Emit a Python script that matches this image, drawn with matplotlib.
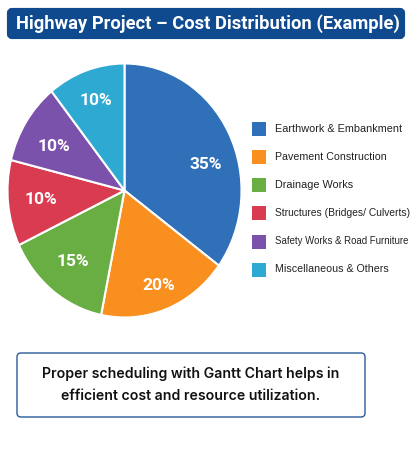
import matplotlib
matplotlib.use('Agg')
import matplotlib.pyplot as plt
from matplotlib.patches import FancyBboxPatch, Rectangle

# slice sizes (the printed labels are rounder than the wedges)
categories = ["Earthwork & Embankment", "Pavement Construction", "Drainage Works",
              "Structures (Bridges/ Culverts)", "Safety Works & Road Furniture",
              "Miscellaneous & Others"]
slice_shares = [35.0, 18.1, 14.7, 10.9, 10.4, 10.7]
slice_labels = ["35%", "20%", "15%", "10%", "10%", "10%"]
colors = ["#3070b8", "#f98f1f", "#69ae43", "#d93b50", "#7b52ab", "#2ea9d2"]

title = "Highway Project – Cost Distribution (Example)"
note_lines = ["Proper scheduling with Gantt Chart helps in",
              "efficient cost and resource utilization."]

W, H = 414, 450
fig = plt.figure(figsize=(W / 100, H / 100), dpi=100, facecolor="white")

# overlay in pixel coords for title bar, legend and note box
bg = fig.add_axes([0, 0, 1, 1])
bg.set_xlim(0, W)
bg.set_ylim(H, 0)
bg.axis("off")

bg.add_patch(FancyBboxPatch((9, 10), 394, 27, boxstyle="round,pad=0,rounding_size=3",
                            mutation_aspect=1, fc="#0f4a8f", ec="#0f4a8f", lw=3))
bg.text(207.5, 24, title, color="white", fontsize=13.2, fontweight="bold",
        family="Roboto", ha="center", va="center")

# pie is slightly stretched vertically in the reference
cx, cy, rx, ry = 124.5, 190.5, 117, 127
ax = fig.add_axes([(cx - rx) / W, 1 - (cy + ry) / H, 2 * rx / W, 2 * ry / H])
wedges, texts = ax.pie(slice_shares, labels=slice_labels, colors=colors, startangle=90,
                       counterclock=False,
                       wedgeprops=dict(edgecolor="white", linewidth=1.5),
                       textprops=dict(color="white", fontsize=12.5, fontweight="bold",
                                      family="Roboto", ha="center", va="center"))
ax.set_aspect("auto")
ax.set_xlim(-1, 1)
ax.set_ylim(-1, 1)

# labels do not sit on the wedge bisectors in the reference
label_pos = [(.695, .205), (.296, -.745), (-.444, -.556), (-.715, -.07), (-.607, .349), (-.242, .709)]
for txt, pos in zip(texts, label_pos):
    txt.set_position(pos)
    txt.set_ha("center")
    txt.set_va("center")

# the two long entries are squeezed in the reference
legend_y = [128.5, 156.5, 185, 213, 241.5, 269.5]
legend_sizes = [7.85, 7.7, 7.8, 7.35, 6.95, 7.7]
for name, col, y, size in zip(categories, colors, legend_y, legend_sizes):
    bg.add_patch(Rectangle((252, y - 7), 14, 14, fc=col, ec="none"))
    bg.text(275, y, name, color="#222222", fontsize=size, family="Liberation Sans",
            ha="left", va="center")

bg.add_patch(FancyBboxPatch((17, 353), 348, 64, boxstyle="round,pad=0,rounding_size=4",
                            fc="white", ec="#2a5a9a", lw=1.0))
bg.text(191, 374, note_lines[0], color="#111111", fontsize=10.15, fontweight="semibold",
        family="Inter", ha="center", va="center")
bg.text(191, 396, note_lines[1], color="#111111", fontsize=10.15, fontweight="semibold",
        family="Inter", ha="center", va="center")

fig.savefig("out.png", dpi=100)
